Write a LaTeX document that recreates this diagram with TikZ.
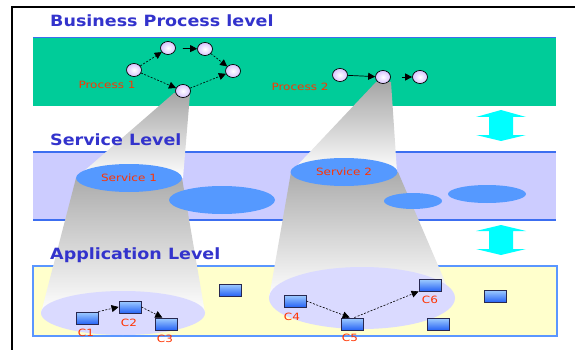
\documentclass[tikz,border=0pt]{standalone}
\usepackage{fontspec}
\newfontfamily\titlefont[FakeStretch=1.13]{DejaVu Sans}
\newfontfamily\lblfont[FakeStretch=1.2]{DejaVu Sans}
\usetikzlibrary{arrows.meta,shapes.geometric}

\definecolor{bpgreen}{RGB}{0,204,153}
\definecolor{svlav}{RGB}{204,204,255}
\definecolor{apyel}{RGB}{255,255,204}
\definecolor{bandline}{RGB}{60,110,240}
\definecolor{apline}{RGB}{90,150,255}
\definecolor{titleblue}{RGB}{51,51,204}
\definecolor{svblue}{RGB}{85,153,255}
\definecolor{lblred}{RGB}{255,51,0}
\definecolor{arrcyan}{RGB}{0,255,255}
\definecolor{procfill}{RGB}{215,195,255}
\definecolor{appell}{RGB}{218,218,255}
\definecolor{comptop}{RGB}{160,205,255}
\definecolor{compbot}{RGB}{40,100,245}
\definecolor{compline}{RGB}{40,40,80}

\begin{document}
\begin{tikzpicture}[x=1pt,y=-1pt,
  proc/.style={ellipse,draw=black,line width=0.7pt,minimum width=15pt,
    minimum height=13pt,inner sep=0pt,inner color=white,outer color=procfill},
  comp/.style={rectangle,draw=compline,line width=0.9pt,minimum width=22pt,
    minimum height=12pt,inner sep=0pt,top color=comptop,bottom color=compbot},
  flow/.style={-{Triangle[length=7pt,width=7pt]},black,line width=0.6pt,
    dash pattern=on 2pt off 1.5pt},
  solidflow/.style={-{Triangle[length=7pt,width=7pt]},black,line width=0.7pt},
  title/.style={anchor=base west,inner sep=0pt,text=titleblue,
    font=\titlefont\bfseries\fontsize{15.5}{16}\selectfont},
  lbl/.style={text=lblred,inner sep=0pt,font=\lblfont\fontsize{10}{11}\selectfont},
  svc/.style={ellipse,fill=svblue,inner sep=0pt},
  duplex/.style={fill=arrcyan}
]
\useasboundingbox (0,0) rectangle (575,350);

% frame
\draw[line width=1.2pt] (575,7) -- (12,7) -- (12,350);

% level bands
\fill[bpgreen] (33,37) rectangle (556,106);
\draw[bandline,line width=0.8pt] (33,37) -- (556,37);
\fill[svlav] (33,152) rectangle (556,220);
\draw[bandline,line width=1.2pt] (33,152) -- (556,152) (33,220) -- (556,220);
\draw[apline,fill=apyel,line width=1.2pt] (33,266) rectangle (557,336);

% spotlight cones
\shade[top color=gray!70,middle color=gray!25,bottom color=white]
  (174,93) -- (190,94) -- (183,178) -- (76,178) -- cycle;
\shade[top color=gray!70,middle color=gray!25,bottom color=white]
  (376,82) -- (391,82) -- (397,172) -- (291,172) -- cycle;
\shade[top color=gray!65,bottom color=white]
  (76,178) -- (182,178) -- (205,313) -- (41,313) -- cycle;
\shade[top color=gray!65,bottom color=white]
  (291,172) -- (398,172) -- (452,298) -- (269,298) -- cycle;

% application-level groupings
\fill[appell] (123,313) ellipse [x radius=82, y radius=22];
\fill[appell] (362,298) ellipse [x radius=93, y radius=31];

% services
\node[svc,minimum width=106pt,minimum height=28pt,lbl] (s1) at (129,178) {Service 1};
\node[svc,minimum width=106pt,minimum height=28pt] (s3) at (222,200) {};
\node[svc,minimum width=107pt,minimum height=28pt,lbl] (s2) at (344,172) {Service 2};
\node[svc,minimum width=58pt,minimum height=16pt] (s4) at (413,201) {};
\node[svc,minimum width=78pt,minimum height=18pt] (s5) at (487,194) {};

% level titles
\node[title] (t1) at (50,27) {Business Process level};
\node[title] (t2) at (50,145) {Service Level};
\node[title] (t3) at (50,259) {Application Level};

% level-to-level arrows
\fill[duplex] (501,110) -- (526,117) -- (513,117) -- (513,135) -- (526,135)
  -- (501,141) -- (476,135) -- (489,135) -- (489,117) -- (476,117) -- cycle;
\fill[duplex] (501,225) -- (526,231) -- (513,231) -- (513,249) -- (526,249)
  -- (501,255) -- (476,249) -- (489,249) -- (489,231) -- (476,231) -- cycle;

% process 1
\node[proc] (A) at (134,70) {};
\node[proc] (B) at (168,48) {};
\node[proc] (C) at (205,49) {};
\node[proc] (D) at (233,71) {};
\node[proc] (E) at (183,91) {};
\node[lbl,anchor=base] (p1) at (107,88.5) {Process 1};
\draw[flow] (A) -- (B);
\draw[solidflow,shorten <=7pt] (B) -- (C);
\draw[flow] (C) -- (D);
\draw[flow] (A) -- (E);
\draw[flow] (E) -- (D);

% process 2
\node[proc] (F) at (340,75) {};
\node[proc] (G) at (383,77) {};
\node[proc] (H) at (420,77) {};
\node[lbl,anchor=base] (p2) at (300,90.5) {Process 2};
\draw[solidflow] (F) -- (G);
\draw[solidflow,shorten <=11pt] (G) -- (H);

% components
\node[comp] (c1) at (87,318) {};
\node[comp] (c2) at (130,307) {};
\node[comp] (c3) at (166,324) {};
\node[comp] (c4) at (295,301) {};
\node[comp] (c5) at (352,324) {};
\node[comp] (c6) at (430,285) {};
\node[comp] (x1) at (230,290) {};
\node[comp] (x2) at (495,296) {};
\node[comp] (x3) at (438,324) {};

\node[lbl] (l1) at (86,333) {C1};
\node[lbl] (l2) at (129,323) {C2};
\node[lbl] (l3) at (165,339) {C3};
\node[lbl] (l4) at (292,317) {C4};
\node[lbl] (l5) at (350,338) {C5};
\node[lbl] (l6) at (430,300) {C6};

\draw[flow] (c1.north east) -- (c2.west);
\draw[flow] (c2.east) -- (c3.120);
\draw[flow] (c4.east) -- (c5.110);
\draw[flow] (c5.70) -- (c6.south west);
\end{tikzpicture}
\end{document}
